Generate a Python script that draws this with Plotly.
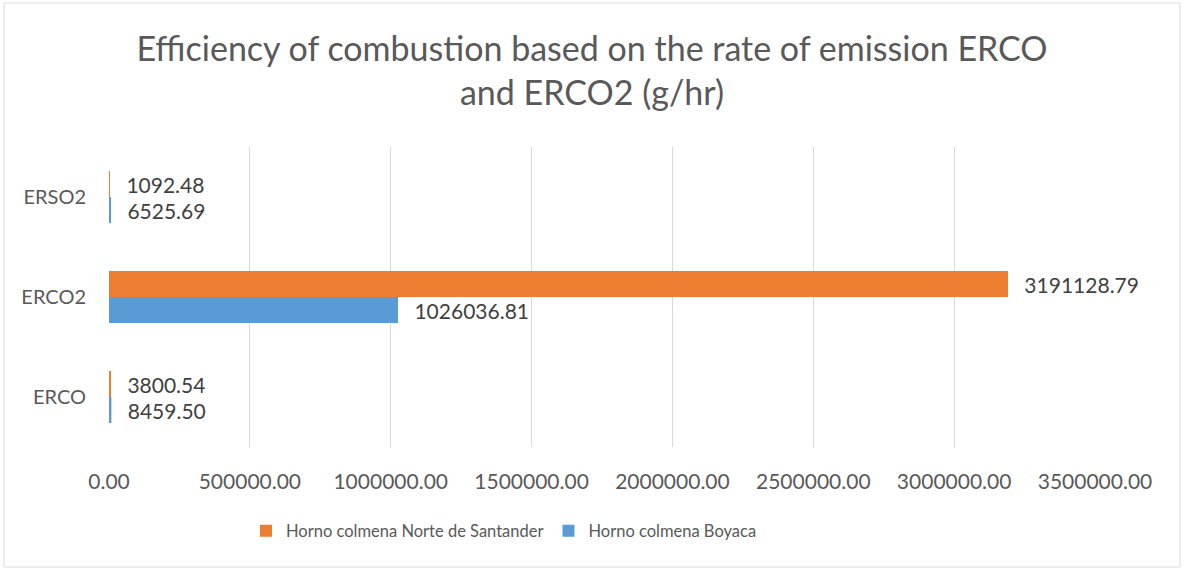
import plotly.graph_objects as go

categories = ["ERCO", "ERCO2", "ERSO2"]
boyaca = [8459.50, 1026036.81, 6525.69]
norte = [3800.54, 3191128.79, 1092.48]
series_names = ["Horno colmena Boyaca", "Horno colmena Norte de Santander"]
tick_vals = [0, 500000, 1000000, 1500000, 2000000, 2500000, 3000000, 3500000]

FONT = "Lato"
L, R, T, B = 109, 89, 147, 122
W, H = 1184, 569
pw, ph = W - L - R, H - T - B

label_tpl = "\u00a0\u00a0\u2009%{x:.2f}"

fig = go.Figure()
fig.add_trace(go.Bar(
    y=categories, x=boyaca, orientation="h", name=series_names[0],
    marker=dict(color="#5b9bd5", line=dict(width=0)),
    texttemplate=label_tpl, textposition="outside", cliponaxis=False,
    textfont=dict(family=FONT, size=21, color="#404040"),
))
fig.add_trace(go.Bar(
    y=categories, x=norte, orientation="h", name=series_names[1],
    marker=dict(color="#ed7d31", line=dict(width=0)),
    texttemplate=label_tpl, textposition="outside", cliponaxis=False,
    textfont=dict(family=FONT, size=21, color="#404040"),
))

fig.update_layout(
    width=W, height=H,
    margin=dict(l=L, r=R, t=T, b=B, autoexpand=False),
    paper_bgcolor="white", plot_bgcolor="white",
    barmode="group", bargap=0.48, bargroupgap=0,
    title=dict(
        text="Efficiency of combustion based on the rate of emission ERCO<br>and ERCO2 (g/hr)",
        x=0.5, xanchor="center", xref="container",
        y=1 - 61 / H, yanchor="middle", yref="container",
        font=dict(family=FONT, size=34, color="#595959"),
    ),
    xaxis=dict(
        range=[0, 3500000], tickvals=tick_vals, tickformat=".2f",
        showgrid=True, gridcolor="#d9d9d9", gridwidth=1,
        zeroline=False, showline=False, ticks="",
        ticklabelstandoff=20,
        tickfont=dict(family=FONT, size=21, color="#595959"),
    ),
    yaxis=dict(
        showgrid=False, zeroline=False, showline=False, ticks="",
        ticklabelstandoff=22,
        tickfont=dict(family=FONT, size=20, color="#595959"),
    ),
    showlegend=True,
    legend=dict(
        orientation="h", traceorder="reversed",
        x=(246 - L) / pw, xanchor="left",
        y=-(531 - (T + ph)) / ph, yanchor="middle",
        font=dict(family=FONT, size=16.5, color="#595959"),
    ),
    shapes=[dict(
        type="rect", xref="paper", yref="paper",
        x0=(4 - L) / pw, x1=(1180 - L) / pw,
        y0=(T + ph - 567) / ph, y1=(T + ph - 3) / ph,
        line=dict(color="#d9d9d9", width=1), fillcolor="rgba(0,0,0,0)", layer="below",
    )],
)

fig.write_html(
    "out.html",
    config={"displayModeBar": False},
    post_script="document.body.style.margin='0px';document.body.style.padding='0px';",
)
